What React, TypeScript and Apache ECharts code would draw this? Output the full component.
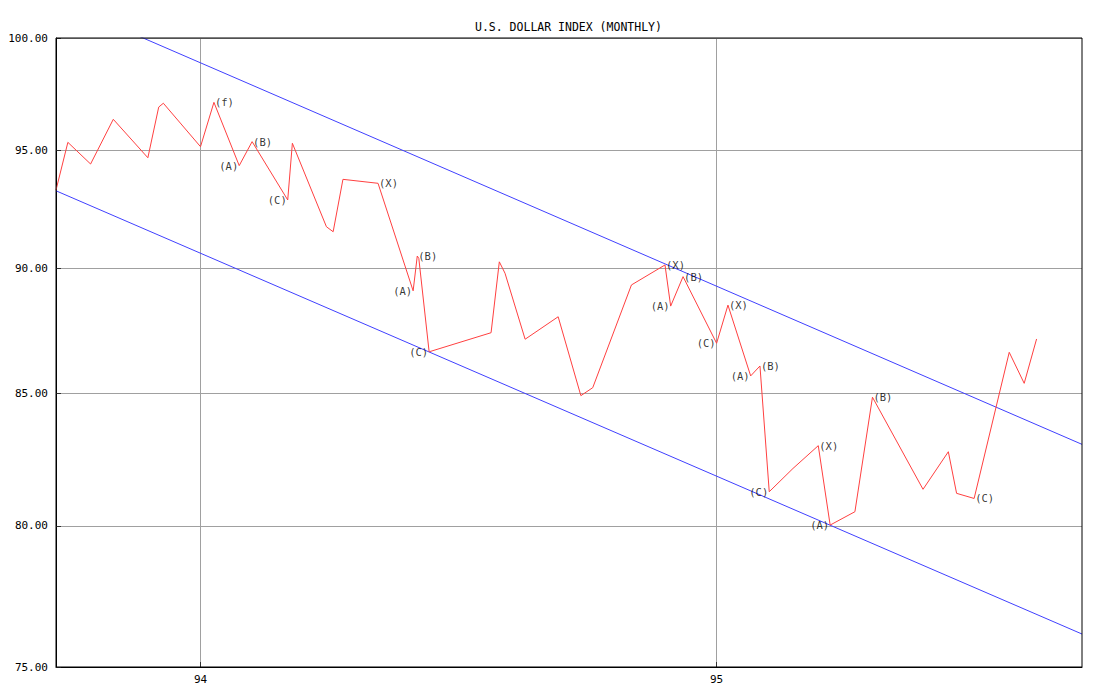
import React, { useEffect, useRef } from "react";
import * as echarts from "echarts";

const TITLE = "U.S. DOLLAR INDEX (MONTHLY)";
const Y_TICKS = [75, 80, 85, 90, 95, 100];
const X_TICKS = [94, 95];
const X_MIN = 93.72;
const X_MAX = 95.708;

// decimal years
const dates = [
  93.72, 93.743, 93.787, 93.831, 93.898, 93.919, 93.928, 94.0, 94.026, 94.075,
  94.1, 94.169, 94.178, 94.244, 94.257, 94.276, 94.344, 94.412, 94.42, 94.423,
  94.443, 94.563, 94.579, 94.59, 94.629, 94.693, 94.737, 94.76, 94.835, 94.9,
  94.911, 94.935, 95.0, 95.022, 95.066, 95.084, 95.102, 95.148, 95.197, 95.22,
  95.268, 95.302, 95.4, 95.449, 95.465, 95.499, 95.567, 95.596, 95.62,
];
const prices = [
  93.28, 95.34, 94.4, 96.35, 94.67, 96.89, 97.06, 95.15, 97.1, 94.33,
  95.37, 92.86, 95.3, 91.73, 91.52, 93.74, 93.57, 89.08, 90.51, 90.41,
  86.63, 87.39, 90.27, 89.8, 87.13, 88.03, 84.91, 85.22, 89.32, 90.14,
  88.46, 89.66, 86.97, 88.5, 85.68, 86.07, 81.26, 82.13, 82.99, 80.03,
  80.52, 84.85, 81.35, 82.76, 81.2, 81.01, 86.61, 85.39, 87.14,
];

const upperChannelX = [93.72, 95.708];
const upperChannelY = [101.74, 83.04];
const lowerChannelX = [93.72, 95.708];
const lowerChannelY = [93.25, 76.14];

const waveIndex = [8, 9, 10, 11, 16, 17, 18, 20, 29, 30, 31, 32, 33, 34, 35, 36, 38, 39, 41, 45];
const waveText = ["(f)", "(A)", "(B)", "(C)", "(X)", "(A)", "(B)", "(C)", "(X)", "(A)", "(B)", "(C)", "(X)", "(A)", "(B)", "(C)", "(X)", "(A)", "(B)", "(C)"];
const waveSide = ["right", "left", "right", "left", "right", "left", "right", "left", "right", "left", "right", "left", "right", "left", "right", "left", "right", "left", "right", "right"];

const MONO = "'DejaVu Sans Mono', 'Liberation Mono', monospace";

export default function App() {
  const ref = useRef<HTMLDivElement>(null);
  useEffect(() => {
    if (!ref.current) return;
    const chart = echarts.init(ref.current, undefined, { renderer: "svg" });
    const priceData = dates.map((d, i) => [d, prices[i]]);
    const waveData = waveIndex.map((idx, k) => ({
      value: [dates[idx], prices[idx]],
      name: waveText[k],
      label: { position: waveSide[k] },
    }));
    chart.setOption({
      animation: false,
      backgroundColor: "#ffffff",
      title: {
        text: TITLE,
        left: 475,
        top: 21,
        padding: 0,
        textStyle: { fontFamily: MONO, fontSize: 11.5, fontWeight: "normal", color: "#000" },
      },
      grid: {
        left: 56,
        right: 22,
        top: 38,
        bottom: 29,
        show: true,
        borderColor: "#000",
        borderWidth: 1,
        backgroundColor: "transparent",
        z: 5,
      },
      xAxis: {
        type: "value",
        min: X_MIN,
        max: X_MAX,
        axisLine: { show: true, lineStyle: { color: "#000", width: 1 } },
        axisTick: { show: true, inside: true, length: 5, customValues: X_TICKS, lineStyle: { color: "#333" } },
        axisLabel: {
          customValues: X_TICKS,
          formatter: (v: number) => String(Math.round(v)),
          fontFamily: MONO,
          fontSize: 11,
          color: "#000",
          margin: 7,
        },
        splitLine: { show: true, lineStyle: { color: "#a0a0a0", width: 1 } },
      },
      yAxis: {
        type: "log",
        logBase: 10,
        min: 75,
        max: 100,
        axisLine: { show: true, lineStyle: { color: "#000", width: 1 } },
        axisTick: { show: true, inside: true, length: 5, customValues: Y_TICKS, lineStyle: { color: "#333" } },
        axisLabel: {
          customValues: Y_TICKS,
          formatter: (v: number) => Number(v).toFixed(2),
          fontFamily: MONO,
          fontSize: 11,
          color: "#000",
          margin: 8,
        },
        splitLine: { show: true, lineStyle: { color: "#a0a0a0", width: 1 } },
      },
      series: [
        {
          type: "line",
          data: upperChannelX.map((x, i) => [x, upperChannelY[i]]),
          symbol: "none",
          lineStyle: { color: "#4040ff", width: 1 },
          silent: true,
          z: 2,
        },
        {
          type: "line",
          data: lowerChannelX.map((x, i) => [x, lowerChannelY[i]]),
          symbol: "none",
          lineStyle: { color: "#4040ff", width: 1 },
          silent: true,
          z: 2,
        },
        {
          type: "line",
          data: priceData,
          symbol: "none",
          lineStyle: { color: "#ff4040", width: 1 },
          z: 3,
        },
        {
          type: "scatter",
          data: waveData,
          symbolSize: 0,
          z: 4,
          label: {
            show: true,
            formatter: (p: any) => p.name,
            distance: 1,
            fontFamily: MONO,
            fontSize: 10.5,
            color: "#000",
          },
        },
      ],
    });
    return () => chart.dispose();
  }, []);
  return (
    <div
      ref={ref}
      style={{ position: "absolute", left: 0, top: 0, width: 1104, height: 696, background: "#fff" }}
    />
  );
}
